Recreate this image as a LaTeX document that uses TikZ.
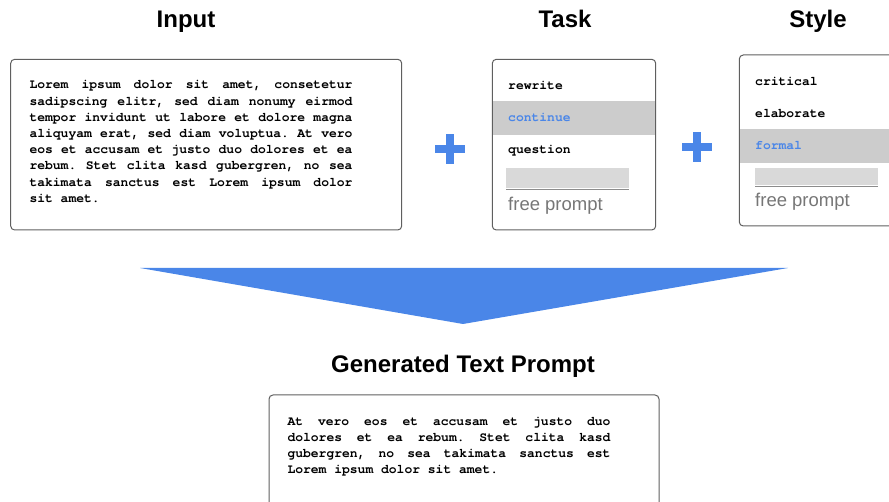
\documentclass[tikz,border=0pt]{standalone}
\usepackage{fontspec}
\setsansfont{Liberation Sans}
\setmonofont{TeX Gyre Cursor}
\definecolor{accent}{HTML}{4A86E8}
\definecolor{panelgray}{HTML}{5F5F5F}
\definecolor{bandgray}{HTML}{CCCCCC}
\definecolor{fieldgray}{HTML}{D9D9D9}
\definecolor{fieldline}{HTML}{8C8C8C}
\definecolor{hintgray}{HTML}{767676}

\begin{document}
\begin{tikzpicture}[x=1pt,y=-1pt]
    \useasboundingbox (0,0) rectangle (889,502);
    \tikzset{title/.style={font = \sffamily\bfseries\fontsize{24}{28}\selectfont,
                anchor = base, inner sep = 0pt},
             panel/.style={draw = panelgray, line width = 1pt,
                rounded corners = 4pt},
             item/.style={font = \ttfamily\bfseries\fontsize{13}{16.2}\selectfont,
                anchor = base west, inner sep = 0pt},
             chosen/.style={item, text = accent},
             para/.style={item, text width = 323pt, align = justify},
             hint/.style={font = \sffamily\fontsize{18.5}{22}\selectfont,
                text = hintgray, anchor = base west, inner sep = 0pt}}
    \node[title] (inputtitle) at (186,28) {Input};
    \node[title] (tasktitle) at (565,28) {Task};
    \node[title] (styletitle) at (818,28) {Style};
    % input text
    \draw[panel] (10.7,59.3) rectangle (401.7,230);
    \node[para] (inputtext) at (29.3,89) {\frenchspacing\spaceskip=7.8pt plus 8pt\relax
        Lorem ipsum dolor sit amet, consetetur\linebreak
        sadipscing elitr, sed diam nonumy eirmod\linebreak
        tempor invidunt ut labore et dolore magna\linebreak
        aliquyam erat, sed diam voluptua. At vero\linebreak
        eos et accusam et justo duo dolores et ea\linebreak
        rebum. Stet clita kasd gubergren, no sea\linebreak
        takimata sanctus est Lorem ipsum dolor\linebreak
        sit amet.};
    \fill[accent] (435,145) rectangle (465,153);
    \fill[accent] (446,134) rectangle (454,164);
    % task menu
    \fill[bandgray] (492.3,101) rectangle (655.7,135);
    \draw[panel] (492.3,59.3) rectangle (655.7,230);
    \node[item] (rewrite) at (508,90) {rewrite};
    \node[chosen] (continue) at (508,122) {continue};
    \node[item] (question) at (508,154) {question};
    \fill[fieldgray] (506,168) rectangle (629,188.5);
    \draw[fieldline, line width = 1.5pt] (506,189.5) -- (629,189.5);
    \node[hint] (taskfree) at (508,211) {free prompt};
    \fill[accent] (682,143) rectangle (712,151);
    \fill[accent] (693,132) rectangle (701,162);
    % style menu
    \fill[bandgray] (739.3,129) rectangle (895,162.7);
    \draw[panel] (739.3,55) rectangle (905,226);
    \node[item] (critical) at (755,86) {critical};
    \node[item] (elaborate) at (755,118) {elaborate};
    \node[chosen] (formal) at (755,150) {formal};
    \fill[fieldgray] (755,168) rectangle (877.7,185.5);
    \draw[fieldline, line width = 1.5pt] (755,186.5) -- (877.7,186.5);
    \node[hint] (stylefree) at (755,207) {free prompt};
    % merge
    \fill[accent] (140,268) -- (788,268) -- (463,324) -- cycle;
    \node[title] (outputtitle) at (463,372.5) {Generated Text Prompt};
    \draw[panel] (269,395) rectangle (659,525);
    \node[para] (outputtext) at (287.3,425) {\frenchspacing\spaceskip=7.8pt plus 8pt\relax
        At vero eos et accusam et justo duo\linebreak
        dolores et ea rebum. Stet clita kasd\linebreak
        gubergren, no sea takimata sanctus est\linebreak
        Lorem ipsum dolor sit amet.};
\end{tikzpicture}
\end{document}
